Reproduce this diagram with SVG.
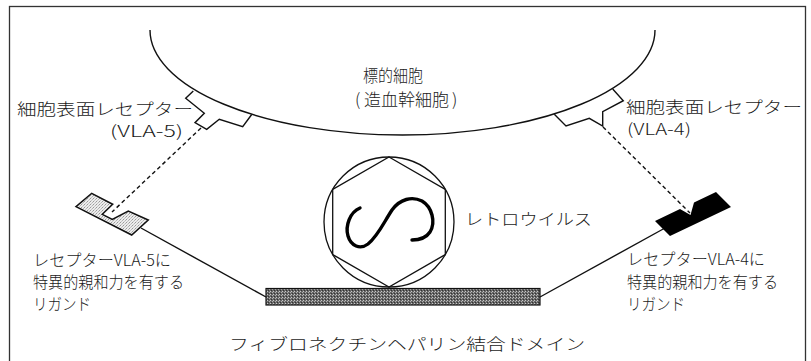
<svg xmlns="http://www.w3.org/2000/svg" width="811" height="361" viewBox="0 0 811 361">
  <style>
    .t { font-family: "Noto Sans CJK JP", "Noto Sans", sans-serif; font-size: 16px; font-weight: 300; fill: #1a1a1a; }
    .big { font-size: 17px; }
    .ln { fill: none; stroke: #111; stroke-width: 1.4; stroke-linejoin: miter; }
    .dash { fill: none; stroke: #111; stroke-width: 1.4; stroke-dasharray: 4 3; }
  </style>
  <defs>
    <!-- dithered fills -->
    <pattern id="darkDots" width="3" height="3" patternUnits="userSpaceOnUse">
      <rect width="3" height="3" fill="#666"/>
      <rect x="0" y="0" width="1" height="1" fill="#c8c8c8"/>
      <rect x="2" y="1" width="1" height="1" fill="#b0b0b0"/>
      <rect x="1" y="2" width="1" height="1" fill="#333"/>
    </pattern>
    <pattern id="lightDots" width="3" height="3" patternUnits="userSpaceOnUse">
      <rect width="3" height="3" fill="#ececec"/>
      <rect x="0" y="0" width="1" height="1" fill="#9a9a9a"/>
      <rect x="2" y="1" width="1" height="1" fill="#b4b4b4"/>
      <rect x="1" y="2" width="1" height="1" fill="#c4c4c4"/>
    </pattern>
  </defs>

  <rect width="811" height="361" fill="#ffffff"/>
  <!-- outer frame -->
  <rect x="9.5" y="6.5" width="796" height="360" fill="none" stroke="#333" stroke-width="1.3"/>

  <!-- target cell -->
  <g id="target-cell">
    <path class="ln" d="M150,30 A252.5,105 0 0 0 655,30"/>
    <text class="t big" x="363" y="82" textLength="60" lengthAdjust="spacingAndGlyphs">標的細胞</text>
    <text class="t big" x="355 364 381 398 415 432 452" y="106">(造血幹細胞)</text>
  </g>

  <!-- VLA-5 receptor on the cell surface -->
  <g id="receptor-vla5">
    <polyline class="ln" points="193.3,91 185.7,98.3 204.3,113.3 195,122.7 206.7,129.3 219.3,119.3 242.7,126.7 251.7,114.5"/>
    <text class="t" x="17" y="115" textLength="176" lengthAdjust="spacingAndGlyphs">細胞表面レセプター</text>
    <text class="t" x="110" y="137" textLength="73" lengthAdjust="spacingAndGlyphs">(VLA-5)</text>
  </g>

  <!-- VLA-4 receptor on the cell surface -->
  <g id="receptor-vla4">
    <polyline class="ln" points="554.3,114.3 566,126 589.3,118.3 602.7,126 602.7,111.7 623.3,100.7 612.7,89"/>
    <text class="t" x="626" y="113" textLength="176" lengthAdjust="spacingAndGlyphs">細胞表面レセプター</text>
    <text class="t" x="627" y="135" textLength="64" lengthAdjust="spacingAndGlyphs">(VLA-4)</text>
  </g>

  <!-- connectors -->
  <g id="connectors">
    <line class="dash" x1="201" y1="128" x2="112" y2="212"/>
    <line class="dash" x1="603" y1="127" x2="690" y2="213"/>
    <line class="ln" x1="141" y1="228" x2="266" y2="297"/>
    <line class="ln" x1="540" y1="297" x2="665" y2="228"/>
  </g>

  <!-- ligand with affinity for VLA-5 -->
  <g id="ligand-vla5">
    <polygon points="91.7,193.3 112.7,204.3 102.3,214.3 112.3,219.3 128.3,211 148.3,220 131.7,235 76,206.7" fill="url(#lightDots)" stroke="#111" stroke-width="1.5" stroke-linejoin="miter"/>
    <text class="t" x="33" y="266" textLength="138" lengthAdjust="spacingAndGlyphs">レセプターVLA-5に</text>
    <text class="t" x="33" y="288" textLength="151" lengthAdjust="spacingAndGlyphs">特異的親和力を有する</text>
    <text class="t" x="33" y="310" textLength="58" lengthAdjust="spacingAndGlyphs">リガンド</text>
  </g>

  <!-- ligand with affinity for VLA-4 -->
  <g id="ligand-vla4">
    <polygon points="655,221 670,236 731,207 716,192 694,202.5 690.5,215 680,209" fill="#000"/>
    <text class="t" x="627" y="265" textLength="138" lengthAdjust="spacingAndGlyphs">レセプターVLA-4に</text>
    <text class="t" x="627" y="288" textLength="151" lengthAdjust="spacingAndGlyphs">特異的親和力を有する</text>
    <text class="t" x="627" y="310" textLength="58" lengthAdjust="spacingAndGlyphs">リガンド</text>
  </g>

  <!-- retrovirus particle -->
  <g id="retrovirus">
    <circle cx="389" cy="222" r="65" fill="none" stroke="#111" stroke-width="1.3"/>
    <polygon points="389,157 445.3,189.5 445.3,254.5 389,287 332.7,254.5 332.7,189.5" fill="none" stroke="#111" stroke-width="1.3"/>
    <path d="M360,208 C350,212 345,226 348,236 C351,246 360,250 368,244 C378,236 384,222 392,210 C400,199 412,196 422,201 C432,207 436,222 430,232 C426,238 418,240 412,240" fill="none" stroke="#000" stroke-width="3.4" stroke-linecap="round"/>
    <text class="t" x="465" y="225" textLength="127" lengthAdjust="spacingAndGlyphs">レトロウイルス</text>
  </g>

  <!-- fibronectin heparin-binding domain -->
  <g id="heparin-domain">
    <rect x="266" y="288.5" width="274" height="16.5" fill="url(#darkDots)" stroke="#111" stroke-width="1.2"/>
    <text class="t" x="229" y="350" textLength="356" lengthAdjust="spacingAndGlyphs">フィブロネクチンヘパリン結合ドメイン</text>
  </g>
</svg>
